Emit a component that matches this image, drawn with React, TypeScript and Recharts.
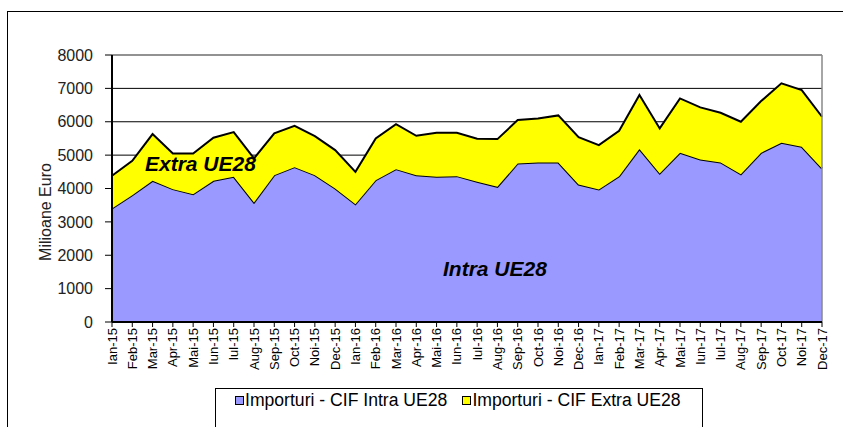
import React from 'react';
import {
  AreaChart,
  Area,
  XAxis,
  YAxis,
  CartesianGrid,
  ReferenceLine,
  Legend
} from 'recharts';

const months = [
  'Ian-15', 'Feb-15', 'Mar-15', 'Apr-15', 'Mai-15', 'Iun-15', 'Iul-15', 'Aug-15', 'Sep-15', 'Oct-15', 'Noi-15', 'Dec-15',
  'Ian-16', 'Feb-16', 'Mar-16', 'Apr-16', 'Mai-16', 'Iun-16', 'Iul-16', 'Aug-16', 'Sep-16', 'Oct-16', 'Noi-16', 'Dec-16',
  'Ian-17', 'Feb-17', 'Mar-17', 'Apr-17', 'Mai-17', 'Iun-17', 'Iul-17', 'Aug-17', 'Sep-17', 'Oct-17', 'Noi-17', 'Dec-17'
];

// milioane euro
const intraUE = [
  3400, 3800, 4230, 3980, 3830, 4230, 4350, 3580, 4400, 4640, 4400, 4000,
  3530, 4250, 4580, 4400, 4350, 4370, 4200, 4050, 4750, 4780, 4780, 4120,
  3970, 4370, 5180, 4450, 5070, 4870, 4780, 4430, 5070, 5370, 5250, 4600
];

const extraUE = [
  980, 1030, 1400, 1070, 1220, 1290, 1340, 1320, 1250, 1240, 1170, 1150,
  970, 1250, 1350, 1180, 1320, 1300, 1290, 1430, 1300, 1320, 1410, 1420,
  1330, 1360, 1620, 1350, 1630, 1560, 1490, 1570, 1550, 1780, 1700, 1550
];

const yTicks = [0, 1000, 2000, 3000, 4000, 5000, 6000, 7000, 8000];

const seriesNames = ['Importuri - CIF Intra UE28', 'Importuri - CIF Extra UE28'];
const seriesColors = ['#9999FF', '#FFFF00'];

const data = months.map((m, i) => ({ name: m, intra: intraUE[i], extra: extraUE[i] }));

const FONT = 'Arial, "Liberation Sans", sans-serif';

const XTick = (props: any) => {
  const { x, y, payload } = props;
  return (
    <text
      x={x}
      y={y}
      transform={`rotate(-90 ${x} ${y})`}
      textAnchor="end"
      dominantBaseline="central"
      fontSize={13}
      fontFamily={FONT}
      fill="#000"
    >
      {payload.value}
    </text>
  );
};

const LegendBox = () => (
  <div
    style={{
      width: 488,
      height: 44,
      border: '1px solid #000',
      boxSizing: 'border-box',
      display: 'flex',
      alignItems: 'flex-start',
      paddingTop: 1,
      paddingLeft: 19,
      fontFamily: FONT,
      fontSize: 17.6,
      color: '#000'
    }}
  >
    {seriesNames.map((n, i) => (
      <div key={n} style={{ display: 'flex', alignItems: 'center', marginRight: 15 }}>
        <span
          style={{
            display: 'inline-block',
            width: 7,
            height: 7,
            border: '1px solid #000',
            background: seriesColors[i],
            marginRight: 1
          }}
        />
        <span>{n}</span>
      </div>
    ))}
  </div>
);

const noteStyle: React.CSSProperties = {
  position: 'absolute',
  fontFamily: FONT,
  fontSize: 21,
  fontWeight: 'bold',
  fontStyle: 'italic',
  color: '#000',
  lineHeight: '22px',
  whiteSpace: 'nowrap'
};

export default function App() {
  return (
    <div
      style={{
        position: 'fixed',
        left: 0,
        top: 0,
        width: 843,
        height: 427,
        overflow: 'hidden',
        background: '#fff'
      }}
    >
      <div
        style={{
          position: 'absolute',
          left: 7,
          top: 11,
          width: 900,
          height: 500,
          border: '1.5px solid #000'
        }}
      />
      <div style={{ position: 'absolute', left: 0, top: 0 }}>
        <AreaChart
          width={843}
          height={427}
          data={data}
          margin={{ top: 55, right: 21, left: 0, bottom: 55 }}
        >
          <CartesianGrid vertical={false} stroke="#000" strokeWidth={1} />
          <XAxis
            dataKey="name"
            interval={0}
            height={50}
            tick={<XTick />}
            tickSize={5}
            tickMargin={1}
            axisLine={{ stroke: '#000', strokeWidth: 2 }}
            tickLine={{ stroke: '#000' }}
          />
          <YAxis
            width={112}
            domain={[0, 8000]}
            ticks={yTicks}
            interval={0}
            tickSize={7}
            tickMargin={12}
            axisLine={{ stroke: '#000', strokeWidth: 2 }}
            tickLine={{ stroke: '#000' }}
            tick={{ fontSize: 16, fontFamily: FONT, fill: '#222' }}
          />
          <Area
            type="linear"
            dataKey="intra"
            name={seriesNames[0]}
            stackId="1"
            stroke="#000"
            strokeWidth={2}
            fill={seriesColors[0]}
            fillOpacity={1}
            isAnimationActive={false}
          />
          <Area
            type="linear"
            dataKey="extra"
            name={seriesNames[1]}
            stackId="1"
            stroke="#000"
            strokeWidth={2}
            fill={seriesColors[1]}
            fillOpacity={1}
            isAnimationActive={false}
          />
          <ReferenceLine y={8000} stroke="#999" strokeWidth={1.5} />
          <ReferenceLine x="Dec-17" stroke="#888" strokeWidth={1.5} />
          <Legend
            layout="horizontal"
            verticalAlign="middle"
            align="center"
            content={<LegendBox />}
            wrapperStyle={{ left: 215, top: 388, width: 488, height: 44 }}
          />
          <text
            x={45}
            y={212}
            transform="rotate(-90 45 212)"
            textAnchor="middle"
            dominantBaseline="central"
            fontSize={16}
            fontFamily={FONT}
            fill="#222"
          >
            Milioane Euro
          </text>
        </AreaChart>
      </div>
      <div style={{ ...noteStyle, left: 145, top: 153 }}>Extra UE28</div>
      <div style={{ ...noteStyle, left: 443, top: 258 }}>Intra UE28</div>
    </div>
  );
}
